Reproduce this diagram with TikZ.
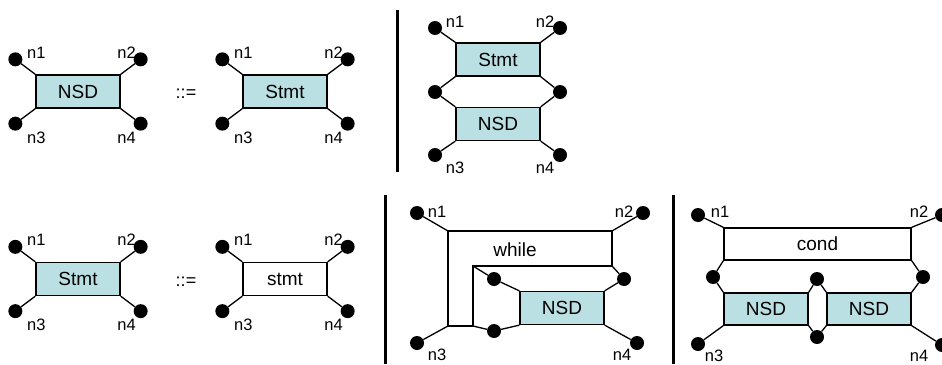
\documentclass[tikz,border=0pt]{standalone}
\usepackage{fontspec}
\setmainfont{Liberation Sans}
\usetikzlibrary{positioning,calc}
\definecolor{nsdcyan}{RGB}{186,224,227}

\begin{document}
\begin{tikzpicture}[
x = 1pt, y = -1pt,
every node/.style = {
	font = \fontsize{16.5}{18}\selectfont
},
block/.style = {
	draw,
	line width = 1.3pt,
	fill = nsdcyan,
	inner sep = 0pt,
	minimum width = 84pt,
	minimum height = 33pt,
	font = \fontsize{19}{21}\selectfont
},
plain/.style = {
	block,
	fill = white
},
port/.style = {
	circle,
	fill = black,
	inner sep = 0pt,
	minimum size = 14pt
},
wire/.style = {
	line width = 1.3pt
},
bar/.style = {
	line width = 3pt
}
]
\useasboundingbox (0,0) rectangle (942,364);

% separators
\draw[bar] (397,10) -- (397,172);
\draw[bar] (385,195) -- (385,364);
\draw[bar] (673,195) -- (673,364);

% single boxes
\node (nsdA) [block] at (78,91.5) {NSD};
\node (stmtB) [block] at (285,91.5) {Stmt};
\node (stmtD) [block] at (78,279) {Stmt};
\node (stmtE) [plain] at (285,279) {stmt};
\node (defA) [font = \fontsize{18}{20}\selectfont] at (186,94) {::=};
\node (defD) [font = \fontsize{18}{20}\selectfont] at (186,282) {::=};

\foreach \b in {nsdA, stmtB, stmtD, stmtE} {
	\node (\b-1) [port] at ($(\b.north west)+(-20,-15)$) {};
	\node (\b-2) [port] at ($(\b.north east)+(20,-15)$) {};
	\node (\b-3) [port] at ($(\b.south west)+(-20,15)$) {};
	\node (\b-4) [port] at ($(\b.south east)+(20,15)$) {};
	\draw[wire] (\b-1) -- (\b.north west);
	\draw[wire] (\b-2) -- (\b.north east);
	\draw[wire] (\b-3) -- (\b.south west);
	\draw[wire] (\b-4) -- (\b.south east);
	\node (\b-l1) at ($(\b-1)+(21,-7)$) {n1};
	\node (\b-l2) at ($(\b-2)+(-14,-7)$) {n2};
	\node (\b-l3) at ($(\b-3)+(21,14)$) {n3};
	\node (\b-l4) at ($(\b-4)+(-14,14)$) {n4};
}

% sequence
\node (stmtC) [block] at (498,59.5) {Stmt};
\node (nsdC) [block] at (498,124) {NSD};
\node (c1) [port] at (435,28) {};
\node (c2) [port] at (560,28) {};
\node (cm1) [port] at (435,92) {};
\node (cm2) [port] at (560,92) {};
\node (c3) [port] at (435,155) {};
\node (c4) [port] at (560,155) {};
\draw[wire] (c1) -- (stmtC.north west);
\draw[wire] (c2) -- (stmtC.north east);
\draw[wire] (stmtC.south west) -- (cm1) -- (nsdC.north west);
\draw[wire] (stmtC.south east) -- (cm2) -- (nsdC.north east);
\draw[wire] (c3) -- (nsdC.south west);
\draw[wire] (c4) -- (nsdC.south east);
\node (cl1) at (455,22) {n1};
\node (cl2) at (545,22) {n2};
\node (cl3) at (455,168) {n3};
\node (cl4) at (545,168) {n4};

% while loop
\coordinate (wtl) at (448,231);
\coordinate (wtr) at (612,231);
\coordinate (witr) at (612,266);
\coordinate (witl) at (473,266);
\coordinate (wibl) at (473,326);
\coordinate (wbl) at (448,326);
\draw[wire] (wtl) -- (wtr) -- (witr) -- (witl) -- (wibl) -- (wbl) -- cycle;
\node (while) [font = \fontsize{19}{21}\selectfont] at (515,250) {while};
\node (nsdF) [block] at (562,308) {NSD};
\node (f1) [port] at (417,213) {};
\node (f2) [port] at (643,213) {};
\node (fi1) [port] at (494,279) {};
\node (fi2) [port] at (624,279) {};
\node (fi3) [port] at (494,331) {};
\node (f3) [port] at (417,343) {};
\node (f4) [port] at (637,343) {};
\draw[wire] (f1) -- (wtl);
\draw[wire] (f2) -- (wtr);
\draw[wire] (f3) -- (wbl);
\draw[wire] (f4) -- (nsdF.south east);
\draw[wire] (witl) -- (fi1) -- (nsdF.north west);
\draw[wire] (witr) -- (fi2) -- (nsdF.north east);
\draw[wire] (wibl) -- (fi3) -- (nsdF.south west);
\node (fl1) at (437,212) {n1};
\node (fl2) at (624,212) {n2};
\node (fl3) at (437,355) {n3};
\node (fl4) at (622,355) {n4};

% condition
\node (cond) [plain, minimum width = 187pt, minimum height = 32pt] at (817.5,244) {cond};
\node (nsdL) [block, minimum height = 32pt] at (766,309) {NSD};
\node (nsdR) [block, minimum height = 32pt] at (869,309) {NSD};
\node (g1) [port] at (698,215) {};
\node (g2) [port] at (942,215) {};
\node (gm1) [port] at (713,277) {};
\node (gm2) [port] at (923,277) {};
\node (gc1) [port] at (817,279) {};
\node (gc2) [port] at (817,337) {};
\node (g3) [port] at (698,344) {};
\node (g4) [port] at (942,345) {};
\draw[wire] (g1) -- (cond.north west);
\draw[wire] (g2) -- (cond.north east);
\draw[wire] (cond.south west) -- (gm1) -- (nsdL.north west);
\draw[wire] (cond.south east) -- (gm2) -- (nsdR.north east);
\draw[wire] (nsdL.north east) -- (gc1) -- (nsdR.north west);
\draw[wire] (nsdL.south east) -- (gc2) -- (nsdR.south west);
\draw[wire] (g3) -- (nsdL.south west);
\draw[wire] (g4) -- (nsdR.south east);
\node (gl1) at (720,212) {n1};
\node (gl2) at (919,212) {n2};
\node (gl3) at (714,356) {n3};
\node (gl4) at (919,356) {n4};

\end{tikzpicture}
\end{document}
